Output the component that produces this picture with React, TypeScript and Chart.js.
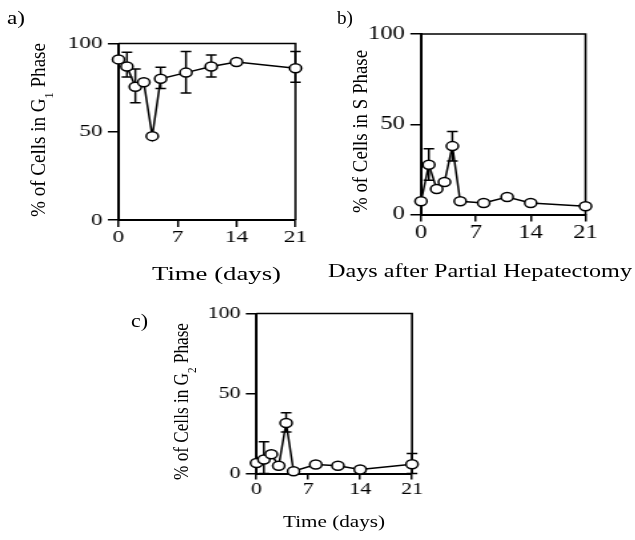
import React, { useEffect, useRef } from "react";
import { Chart, registerables } from "chart.js";

Chart.register(...registerables);

// ---- data ----
const days = [0, 1, 2, 3, 4, 5, 8, 11, 14, 21];
const g1Values = [91, 87, 75.5, 78, 47.5, 80, 83.5, 87, 89.5, 86];
const g1Low = [null, 81, 66.5, null, null, 74.5, 72, 81, null, 78];
const g1High = [null, 95, 85.5, null, null, 86.5, 95.5, 93.5, null, 95.5];
const sValues = [7.3, 27.6, 14.1, 18, 37.9, 7.3, 6.4, 9.7, 6.4, 4.6];
const sLow = [null, 19, null, null, 29.6, null, null, null, null, null];
const sHigh = [null, 36.4, null, null, 46, null, null, null, null, null];
const g2Values = [6.6, 8.7, 12, 4.8, 31.6, 1.4, 5.6, 4.8, 2.5, 5.8];
const g2Low = [null, 0, null, null, 26, null, null, null, null, 0];
const g2High = [null, 19.8, null, null, 38, null, null, null, null, 12.5];
const xTicks = [0, 7, 14, 21];
const yTicks = [0, 50, 100];

const FONT = "'Liberation Serif', 'Times New Roman', Times, serif";
const S = 1.33; // horizontal stretch of the original figure

type Panel = {
  key: string;
  L: number;
  T: number;
  area: [number, number, number, number];
  values: number[];
  low: (number | null)[];
  high: (number | null)[];
  tickFont: number;
  xTickLen: number;
  xTickPad: number;
};

const panels: Panel[] = [
  { key: "a", L: 60, T: 20, area: [118.5, 43.5, 295.5, 220], values: g1Values, low: g1Low, high: g1High, tickFont: 17.5, xTickLen: 7, xTickPad: 0 },
  { key: "b", L: 360, T: 10, area: [421, 34, 585.5, 214.5], values: sValues, low: sLow, high: sHigh, tickFont: 18.5, xTickLen: 7, xTickPad: 1 },
  { key: "c", L: 195, T: 290, area: [256.5, 313.5, 412, 473.5], values: g2Values, low: g2Low, high: g2High, tickFont: 16.5, xTickLen: 6, xTickPad: 0 },
];

function PanelChart({ p }: { p: Panel }) {
  const ref = useRef<HTMLCanvasElement>(null);
  const [cl, ct, cr, cb] = p.area;
  const yAxisW = (cl - p.L) / S;
  const chartRight = (cr - p.L) / S;
  const w = Math.ceil(chartRight + 22);
  const padTop = ct - p.T;
  const chartBottom = cb - p.T;
  const xAxisH = 34;
  const h = Math.ceil(chartBottom + xAxisH);

  useEffect(() => {
    const cap = 4;
    const errPlugin = {
      id: "errbars" + p.key,
      beforeDatasetsDraw(chart: any) {
        const { ctx, chartArea } = chart;
        const x = chart.scales.x;
        const y = chart.scales.y;
        ctx.save();
        ctx.strokeStyle = "#000";
        ctx.lineWidth = 1.6;
        ctx.beginPath();
        ctx.moveTo(chartArea.left, chartArea.top);
        ctx.lineTo(chartArea.right, chartArea.top);
        ctx.lineTo(chartArea.right, chartArea.bottom);
        ctx.stroke();
        ctx.lineWidth = 1.5;
        days.forEach((d, i) => {
          const lo = p.low[i];
          const hi = p.high[i];
          if (lo == null || hi == null) return;
          const px = x.getPixelForValue(d);
          const y1 = y.getPixelForValue(lo);
          const y2 = y.getPixelForValue(hi);
          ctx.beginPath();
          ctx.moveTo(px, y1);
          ctx.lineTo(px, y2);
          ctx.moveTo(px - cap, y1);
          ctx.lineTo(px + cap, y1);
          ctx.moveTo(px - cap, y2);
          ctx.lineTo(px + cap, y2);
          ctx.stroke();
        });
        ctx.restore();
      },
    };

    const chart = new Chart(ref.current as HTMLCanvasElement, {
      type: "line",
      data: {
        datasets: [
          {
            data: days.map((d, i) => ({ x: d, y: p.values[i] })),
            borderColor: "#000",
            borderWidth: 1.5,
            pointRadius: 4.5,
            pointBackgroundColor: "#fff",
            pointBorderColor: "#000",
            pointBorderWidth: 1.5,
            tension: 0,
            clip: false as any,
          },
        ],
      },
      options: {
        responsive: false,
        animation: false,
        devicePixelRatio: 1,
        events: [],
        layout: {
          padding: { left: 0, top: padTop, right: w - chartRight, bottom: h - chartBottom - xAxisH },
        },
        plugins: {
          legend: { display: false },
          tooltip: { enabled: false },
          title: { display: false },
        },
        scales: {
          x: {
            type: "linear",
            min: 0,
            max: 21,
            afterBuildTicks: (sc: any) => {
              sc.ticks = xTicks.map((v) => ({ value: v }));
            },
            afterFit: (sc: any) => {
              sc.height = xAxisH;
            },
            ticks: {
              color: "#000",
              font: { family: FONT, size: p.tickFont },
              padding: p.xTickPad,
              maxRotation: 0,
              autoSkip: false,
            },
            grid: { display: true, drawOnChartArea: false, drawTicks: true, tickLength: p.xTickLen, color: "#000", lineWidth: 1.5 },
            border: { display: true, color: "#000", width: 2 },
          },
          y: {
            type: "linear",
            min: 0,
            max: 100,
            afterBuildTicks: (sc: any) => {
              sc.ticks = yTicks.map((v) => ({ value: v }));
            },
            afterFit: (sc: any) => {
              sc.width = yAxisW;
            },
            ticks: {
              color: "#000",
              font: { family: FONT, size: p.tickFont },
              padding: 4,
              autoSkip: false,
            },
            grid: { display: true, drawOnChartArea: false, drawTicks: true, tickLength: 8, color: "#000", lineWidth: 1.5 },
            border: { display: true, color: "#000", width: 2 },
          },
        },
      } as any,
      plugins: [errPlugin],
    });
    return () => chart.destroy();
  }, []);

  return (
    <div
      style={{
        position: "absolute",
        left: p.L,
        top: p.T,
        width: w,
        height: h,
        transform: `scaleX(${S})`,
        transformOrigin: "0 0",
      }}
    >
      <canvas ref={ref} width={w} height={h} style={{ width: w, height: h, display: "block" }} />
    </div>
  );
}

function YTitle({ cx, cy, len, main, sub, tail }: { cx: number; cy: number; len: number; main: string; sub?: string; tail?: string }) {
  return (
    <text
      transform={`translate(${cx},${cy}) scale(${S},1) rotate(-90)`}
      textAnchor="middle"
      fontSize={15.5}
      textLength={len}
      lengthAdjust="spacingAndGlyphs"
    >
      {main}
      {sub ? (
        <tspan dy={6} fontSize={10}>
          {sub}
        </tspan>
      ) : null}
      {tail ? <tspan dy={sub ? -6 : 0}>{tail}</tspan> : null}
    </text>
  );
}

export default function App() {
  return (
    <div style={{ position: "absolute", left: 0, top: 0, width: 635, height: 540, background: "#fff", overflow: "hidden" }}>
      {panels.map((p) => (
        <PanelChart key={p.key} p={p} />
      ))}
      <svg width={635} height={540} style={{ position: "absolute", left: 0, top: 0, pointerEvents: "none" }} fontFamily={FONT} fill="#000">
        <text x={7} y={24} fontSize={18} textLength={18} lengthAdjust="spacingAndGlyphs">a)</text>
        <text x={337} y={24} fontSize={18} textLength={16} lengthAdjust="spacingAndGlyphs">b)</text>
        <text x={131} y={327} fontSize={18} textLength={17} lengthAdjust="spacingAndGlyphs">c)</text>

        <text x={152} y={279.5} fontSize={18} textLength={129} lengthAdjust="spacingAndGlyphs">Time (days)</text>
        <text x={328} y={277} fontSize={18} textLength={304} lengthAdjust="spacingAndGlyphs">Days after Partial Hepatectomy</text>
        <text x={283} y={527} fontSize={16} textLength={102} lengthAdjust="spacingAndGlyphs">Time (days)</text>

        <YTitle cx={45} cy={130} len={174} main="% of Cells in G" sub="1" tail=" Phase" />
        <YTitle cx={366.5} cy={131.5} len={163} main="% of Cells in S Phase" />
        <YTitle cx={188} cy={401.5} len={157} main="% of Cells in G" sub="2" tail=" Phase" />
      </svg>
    </div>
  );
}
